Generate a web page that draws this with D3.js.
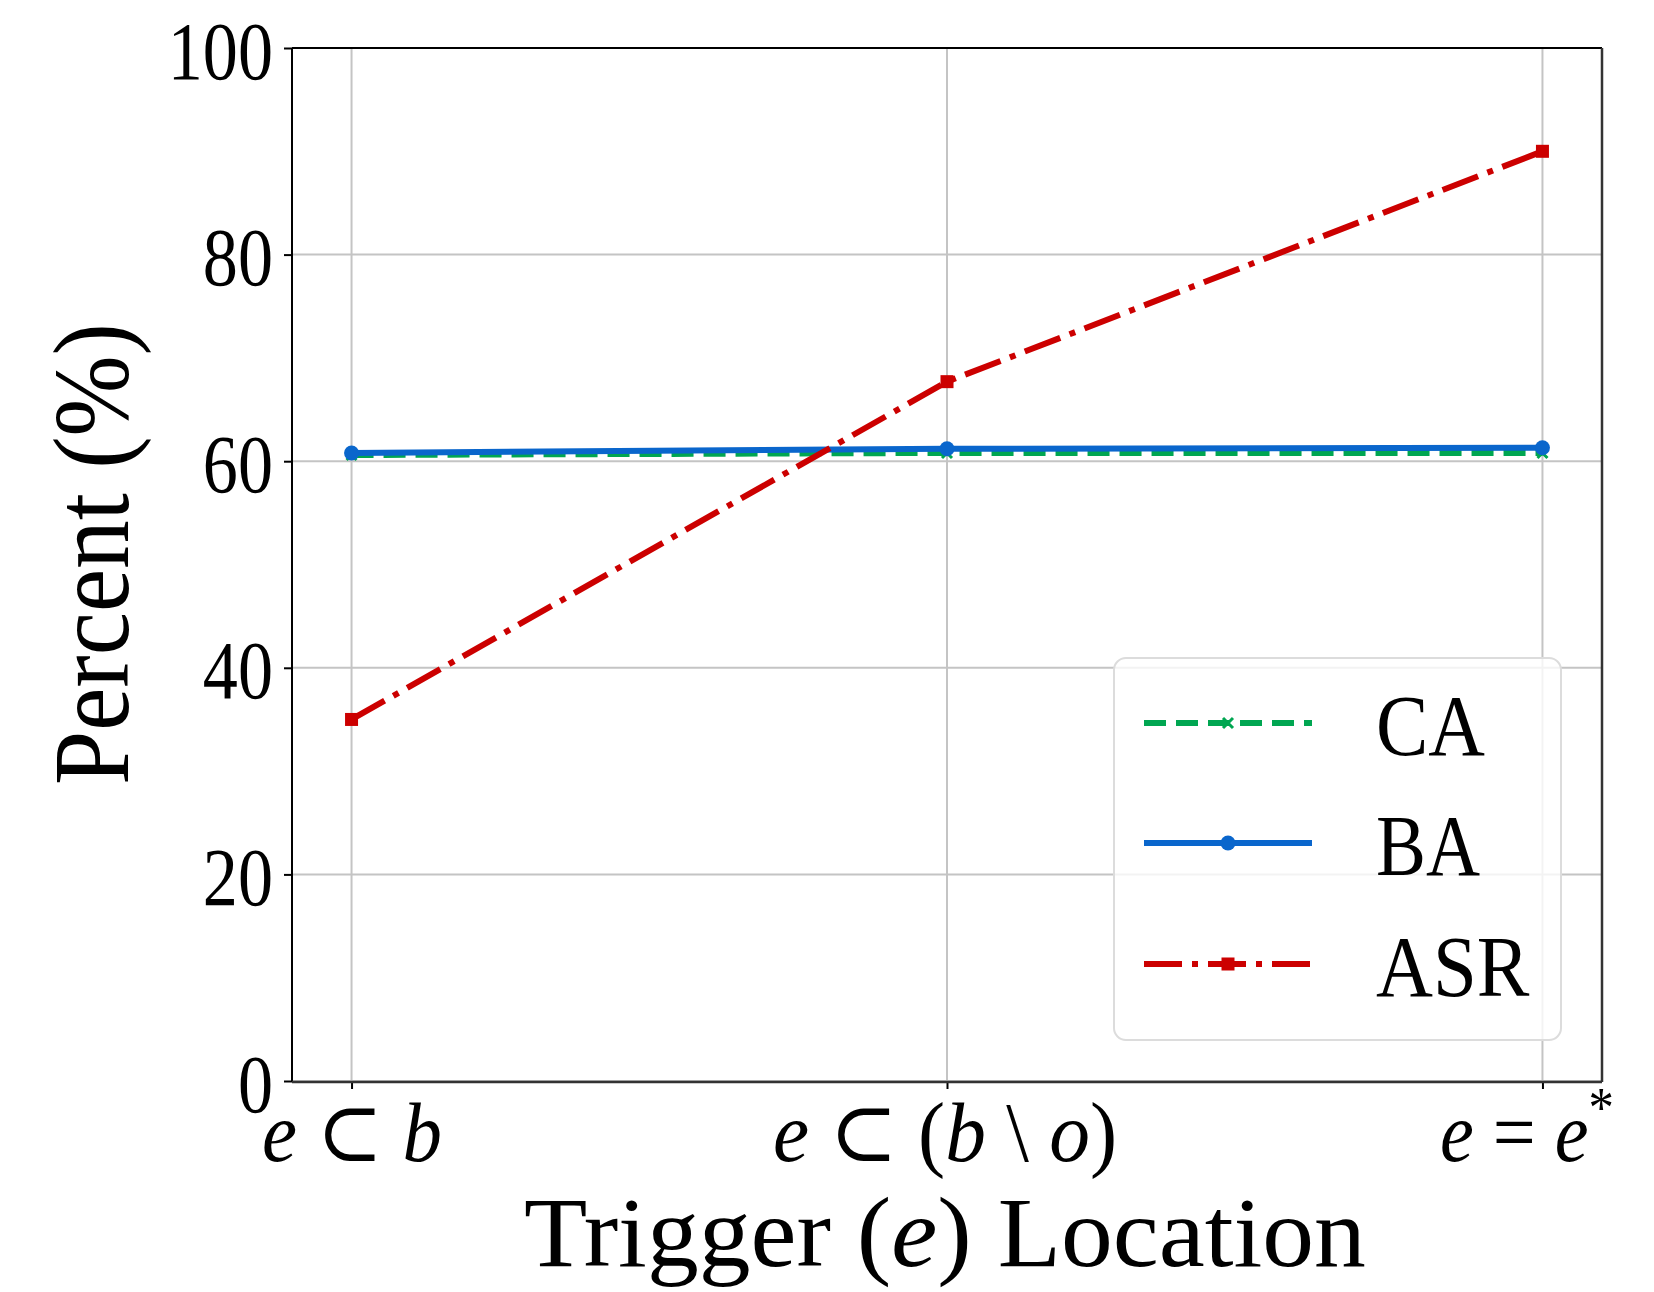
<!DOCTYPE html>
<html>
<head>
<meta charset="utf-8">
<script src="https://cdn.jsdelivr.net/npm/d3@7"></script>
<style>
  html, body { margin: 0; padding: 0; background: #fff; }
  svg { display: block; }
  text { font-family: "Liberation Serif", "DejaVu Serif", serif; fill: #000; }
</style>
</head>
<body>
<svg id="chart" width="1654" height="1292"></svg>
<script>
// ---------------- data ----------------
const categories = ["e ⊂ b", "e ⊂ (b \\ o)", "e = e*"];
// tick label pieces: [text, style] (i = italic math, n = upright, s = superscript)
const tickLabelParts = [
  [["e", "i"], [" ⊂ ", "n"], ["b", "i"]],
  [["e", "i"], [" ⊂ (", "n"], ["b", "i"], [" \\ ", "n"], ["o", "i"], [")", "n"]],
  [["e", "i"], [" = ", "n"], ["e", "i"], ["*", "s"]]
];
const seriesNames = ["CA", "BA", "ASR"];
const caValues  = [60.6, 60.8, 60.8];
const baValues  = [60.8, 61.2, 61.3];
const asrValues = [35.0, 67.7, 90.0];
const yTicks = [0, 20, 40, 60, 80, 100];
const yLabel = "Percent (%)";
const xLabelParts = [["Trigger (", "n"], ["e", "i"], [") Location", "n"]];

// ---------------- layout ----------------
const L = 292, R = 1602, T = 48, B = 1081;
const svg = d3.select("#chart");

const x = d3.scalePoint().domain(categories).range([L, R]).padding(0.1);
const y = d3.scaleLinear().domain([0, 100]).range([B, T]);

const colors = { CA: "#00a651", BA: "#0a66cc", ASR: "#cc0000" };
const dashes = { CA: "22,10", BA: null, ASR: "38,10,6,10" };
const LW = 6;

function fitX(node, tx, ty, targetW, extra) {
  const w = node.getBBox().width;
  node.setAttribute("transform", `translate(${tx},${ty})${extra || ""} scale(${targetW / w},1)`);
}

// ---------------- grid ----------------
const grid = svg.append("g");
grid.selectAll("line.h").data(yTicks).join("line")
  .attr("x1", L).attr("x2", R)
  .attr("y1", d => y(d)).attr("y2", d => y(d))
  .attr("stroke", "#c4c4c4").attr("stroke-width", 2);
grid.selectAll("line.v").data(categories).join("line")
  .attr("x1", d => x(d)).attr("x2", d => x(d))
  .attr("y1", T).attr("y2", B)
  .attr("stroke", "#c4c4c4").attr("stroke-width", 2);

// ---------------- axes ----------------
const yAxis = svg.append("g").attr("transform", `translate(${L},0)`)
  .call(d3.axisLeft(y).tickValues(yTicks).tickSize(8).tickFormat(d3.format("d")));
yAxis.select(".domain").remove();
yAxis.selectAll(".tick line").attr("stroke", "#000").attr("stroke-width", 2);
yAxis.selectAll(".tick text")
  .attr("x", 0).attr("dy", null).attr("y", 0)
  .attr("text-anchor", "end")
  .attr("font-family", "Liberation Serif, serif")
  .attr("font-size", 83)
  .each(function () { fitX(this, -19, 30, this.getBBox().width * 0.845); });

const xAxis = svg.append("g").attr("transform", `translate(0,${B})`)
  .call(d3.axisBottom(x).tickSize(8).tickFormat(""));
xAxis.select(".domain").remove();
xAxis.selectAll(".tick line").attr("stroke", "#000").attr("stroke-width", 2);

// x tick labels (math style)
const xTickBoxes = [
  { left: 262, width: 180 },
  { left: 773, width: 344 },
  { left: 1440, width: 174 }
];
categories.forEach((c, i) => {
  const t = svg.append("text").attr("font-size", 84).attr("text-anchor", "start");
  tickLabelParts[i].forEach(([s, st]) => {
    const ts = t.append("tspan").text(s);
    if (st === "i") ts.attr("font-style", "italic");
    if (st === "s") ts.attr("font-size", 56).attr("dy", -34);
  });
  fitX(t.node(), xTickBoxes[i].left, 1161, xTickBoxes[i].width);
});

// spines
svg.append("line").attr("x1", L).attr("x2", L).attr("y1", T).attr("y2", B + 1).attr("stroke", "#000").attr("stroke-width", 2);
svg.append("line").attr("x1", L).attr("x2", R).attr("y1", T).attr("y2", T).attr("stroke", "#000").attr("stroke-width", 2);
svg.append("line").attr("x1", R).attr("x2", R).attr("y1", T).attr("y2", B + 1).attr("stroke", "#333").attr("stroke-width", 2.5);
svg.append("line").attr("x1", L).attr("x2", R).attr("y1", B + 1).attr("y2", B + 1).attr("stroke", "#333").attr("stroke-width", 2.5);

// axis titles
const yl = svg.append("text").attr("font-size", 107).attr("text-anchor", "middle").text(yLabel);
fitX(yl.node(), 128, 554, 462, " rotate(-90)");

const xl = svg.append("text").attr("font-size", 100).attr("text-anchor", "start");
xLabelParts.forEach(([s, st]) => {
  const ts = xl.append("tspan").text(s);
  if (st === "i") ts.attr("font-style", "italic");
});
fitX(xl.node(), 524, 1266, 842);

// ---------------- series ----------------
const series = [
  { name: "CA", values: caValues },
  { name: "BA", values: baValues },
  { name: "ASR", values: asrValues }
];
const line = d3.line().x(d => x(d.c)).y(d => y(d.v));

function drawMarker(g, name, cx, cy) {
  const col = colors[name];
  if (name === "BA") {
    g.append("circle").attr("cx", cx).attr("cy", cy).attr("r", 7.5).attr("fill", col);
  } else if (name === "ASR") {
    g.append("rect").attr("x", cx - 6.5).attr("y", cy - 6.5).attr("width", 13).attr("height", 13).attr("fill", col);
  } else {
    g.append("path").attr("d", `M${cx - 5},${cy - 5}L${cx + 5},${cy + 5}M${cx - 5},${cy + 5}L${cx + 5},${cy - 5}`)
      .attr("stroke", col).attr("stroke-width", 3);
  }
}

series.forEach(s => {
  const pts = categories.map((c, i) => ({ c, v: s.values[i] }));
  const g = svg.append("g");
  g.append("path").datum(pts).attr("d", line)
    .attr("fill", "none").attr("stroke", colors[s.name]).attr("stroke-width", LW)
    .attr("stroke-dasharray", dashes[s.name]).attr("stroke-linecap", "butt");
  pts.forEach(p => drawMarker(g, s.name, x(p.c), y(p.v)));
});

// ---------------- legend ----------------
const lg = svg.append("g");
lg.append("rect").attr("x", 1114).attr("y", 658).attr("width", 447).attr("height", 382)
  .attr("rx", 12).attr("fill", "rgba(255,255,255,0.8)").attr("stroke", "#dcdcdc").attr("stroke-width", 2);
const legRows = [
  { name: "CA", y: 723, tw: 109 },
  { name: "BA", y: 843, tw: 104 },
  { name: "ASR", y: 964, tw: 154 }
];
legRows.forEach(r => {
  lg.append("line").attr("x1", 1144).attr("x2", 1312).attr("y1", r.y).attr("y2", r.y)
    .attr("stroke", colors[r.name]).attr("stroke-width", LW)
    .attr("stroke-dasharray", dashes[r.name]);
  drawMarker(lg, r.name, 1228, r.y);
  const t = lg.append("text").attr("font-size", 86).attr("text-anchor", "start").text(r.name);
  fitX(t.node(), 1376, r.y + 32, r.tw);
});
</script>
</body>
</html>
